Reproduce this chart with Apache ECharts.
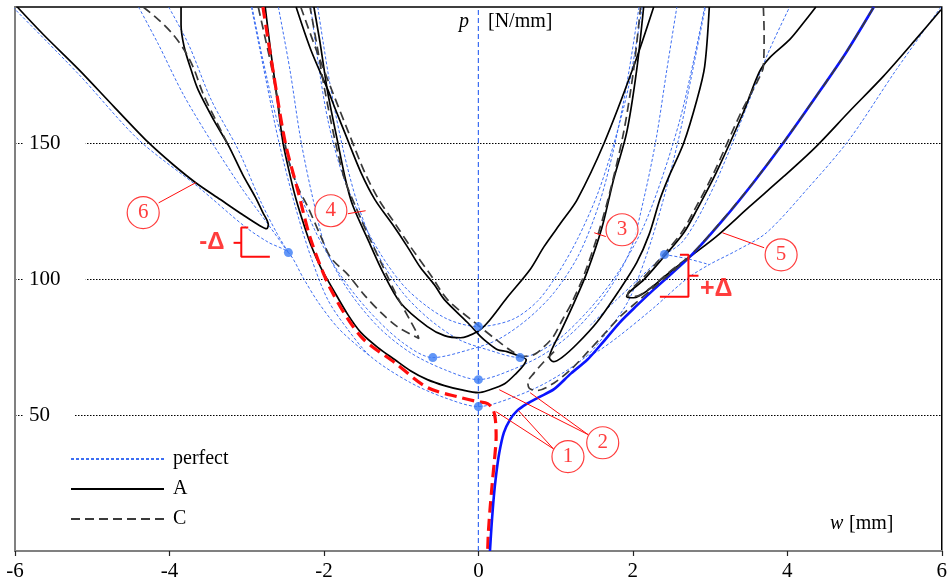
<!DOCTYPE html>
<html><head><meta charset="utf-8">
<script src="https://cdn.jsdelivr.net/npm/echarts/dist/echarts.min.js"></script>
<style>html,body{margin:0;padding:0;background:#fff}#c{width:950px;height:584px}</style>
</head><body><div id="c"></div>
<script>
// ---- axes / ticks ----
const xTicks = [-6, -4, -2, 0, 2, 4, 6];
const yTicks = [0, 50, 100, 150, 200];

// ---- perfect (bifurcation) paths  [w mm, p N/mm] ----
const perfectA = [[-2.94,200],[-2.75,173.2],[-2.59,151.2],[-2.37,126.6],[-2.17,108.2],[-1.95,92.4],[-1.69,81.4],[-1.39,71.4],[-0.88,61.9],[-0.44,56.4],[0,53.1],[0.44,56.4],[0.88,61.9],[1.39,71.4],[1.69,81.4],[1.95,92.4],[2.17,108.2],[2.37,126.6],[2.59,151.2],[2.75,173.2],[2.94,200]];
const perfectB = [[-2.59,200],[-2.44,176.9],[-2.30,151.2],[-2.14,129.2],[-1.97,110.8],[-1.69,96.1],[-1.30,82.5],[-0.88,72.9],[-0.44,66.7],[0,63.0],[0.44,66.7],[0.88,72.9],[1.30,82.5],[1.69,96.1],[1.97,110.8],[2.14,129.2],[2.30,151.2],[2.44,176.9],[2.57,200]];
const perfectC = [[-2.17,200],[-2.08,180.6],[-1.95,158.6],[-1.78,140.2],[-1.56,124.7],[-1.26,108.9],[-0.92,96.1],[-0.44,85.8],[0,82.5],[0.44,85.1],[0.76,91.7],[1.02,101.6],[1.28,114.5],[1.54,131.0],[1.75,149.3],[1.95,171.4],[2.12,200]];
const perfectD = [[-2.93,200],[-2.79,180.6],[-2.61,158.6],[-2.37,136.5],[-2.12,118.1],[-1.79,101.6],[-1.41,88.0],[-0.98,76.6],[-0.59,71.1],[-0.12,74.0],[0.25,77.7],[0.63,85.1],[0.98,95.0],[1.30,108.9],[1.56,127.3],[1.75,147.5],[1.92,171.4],[2.08,200]];
const perfectE = [[-2.08,200],[-1.92,171.4],[-1.75,147.5],[-1.56,127.3],[-1.30,108.9],[-0.98,95.0],[-0.63,85.1],[-0.25,77.7],[0.12,74.0],[0.54,71.1],[0.98,76.6],[1.41,88.0],[1.79,101.6],[2.12,118.1],[2.37,136.5],[2.61,158.6],[2.79,180.6],[2.93,200]];
const perfect6a = [[-6.03,200],[-5.17,175.1],[-4.40,151.2],[-3.63,133.9],[-3.02,119.2],[-2.72,113.5],[-2.46,109.7],[-2.27,100.5],[-2.08,91.7],[-1.82,82.1],[-1.54,74.8],[-1.39,71.4]];
const perfect6b = [[-4.40,200],[-4.14,186.1],[-3.82,167.8],[-3.43,149.3],[-3.05,132.8],[-2.72,120.0],[-2.46,109.7]];
const perfect6c = [[-4.01,200],[-3.75,186.1],[-3.46,165.9],[-3.11,147.5],[-2.83,129.2],[-2.62,117.4],[-2.46,109.7]];
const perfect5a = [[5.99,200],[5.41,176.9],[4.80,151.2],[4.25,132.8],[3.73,117.0],[3.34,110.4],[2.99,105.3],[2.70,100.1],[2.27,89.4],[1.83,79.2],[1.54,73.3],[1.39,71.4]];
const perfect5b = [[2.41,109.0],[2.70,107.5],[2.99,105.3]];
const perfect5c = [[2.41,109.0],[2.63,113.3],[2.83,121.8],[3.06,134.7],[3.28,149.3],[3.51,165.9],[3.77,184.3],[4.03,200]];
const perfect5d = [[2.41,109.0],[2.12,101.2],[1.79,92.4],[1.45,83.0]];
const zeroLine = [[0,0],[0,200]];
const bifurcationPoints = [[0,53.1],[0,63.0],[0,82.5],[-0.59,71.1],[0.54,71.1],[-2.46,109.7],[2.41,109.0]];

// ---- imperfect paths, model A (solid) ----
const A2 = [[-2.76,200],[-2.70,186.1],[-2.62,169.6],[-2.53,150.1],[-2.44,138.3],[-2.36,129.2],[-2.26,120.0],[-2.17,112.6],[-2.04,104.2],[-1.88,96.1],[-1.69,86.9],[-1.52,80.3],[-1.30,74.8],[-1.08,70.3],[-0.88,66.3],[-0.66,63.0],[-0.44,60.8],[-0.23,59.3],[0,58.2],[0.12,59.0],[0.34,61.5],[0.50,65.6],[0.59,68.5],[0.62,70.3],[0.55,71.4],[0.37,73.3],[0.25,74.0],[0.12,76.6],[0.03,78.8],[-0.14,84.0],[-0.44,92.4],[-0.57,97.9],[-0.75,104.2],[-0.92,111.9],[-1.11,120.0],[-1.34,129.2],[-1.52,139.1],[-1.73,153.8],[-1.85,162.3],[-1.95,169.6],[-2.17,184.3],[-2.36,200]];
const A3 = [[2.14,200],[2.05,176.9],[1.92,153.8],[1.75,136.5],[1.60,118.9],[1.41,102.7],[1.24,91.3],[1.06,80.3],[0.95,74.0],[0.92,71.1],[0.97,69.6],[1.08,71.1],[1.28,76.2],[1.54,84.3],[1.83,96.1],[2.05,106.0],[2.21,116.3],[2.35,129.2],[2.46,137.2],[2.66,150.1],[2.83,165.9],[2.93,178.1],[2.99,200]];
const A4 = [[-2.13,200],[-2.05,186.9],[-1.95,168.5],[-1.82,150.1],[-1.72,136.5],[-1.63,127.3],[-1.43,114.5],[-1.24,102.7],[-1.01,91.3],[-0.66,82.5],[-0.44,79.2],[-0.23,78.4],[-0.01,80.7],[0.12,84.0],[0.37,93.1],[0.67,103.5],[0.85,111.9],[1.08,121.1],[1.28,129.2],[1.63,150.1],[2.01,178.1],[2.27,200]];
const A5 = [[4.37,200],[4.21,194.2],[4.03,188.0],[3.77,181.3],[3.64,176.2],[3.43,161.2],[3.08,139.1],[2.83,125.5],[2.66,117.0],[2.37,107.1],[2.14,99.7],[1.96,95.3],[1.92,93.5],[2.01,93.1],[2.22,96.4],[2.44,101.6],[2.74,108.2],[3.08,115.6],[3.51,126.6],[3.95,137.6],[4.37,148.6],[4.80,161.5],[5.24,174.4],[5.66,188.0],[5.99,199.0]];
const A6 = [[-3.85,200],[-3.85,193.5],[-3.81,185.4],[-3.72,176.9],[-3.63,169.6],[-3.43,158.6],[-3.24,149.3],[-3.05,138.3],[-2.89,130.2],[-2.79,124.4],[-2.72,120.0],[-2.74,118.5],[-2.83,119.6],[-3.05,123.6],[-3.34,129.2],[-3.66,135.4],[-3.95,142.0],[-4.27,150.1],[-4.72,163.4],[-5.17,176.9],[-5.63,189.8],[-5.97,200]];

// ---- imperfect paths, model C (dashed) ----
const C4 = [[-2.85,200],[-2.77,189.8],[-2.68,178.1],[-2.58,162.3],[-2.46,143.9],[-2.34,133.9],[-2.21,126.6],[-2.05,116.3],[-1.91,107.8],[-1.69,101.6],[-1.47,93.9],[-1.26,87.6],[-1.05,82.5],[-0.89,79.9],[-0.77,78.1],[-0.80,80.3],[-0.89,85.1],[-1.05,93.5],[-1.26,106.0],[-1.43,116.3],[-1.60,127.3],[-1.73,136.5],[-1.85,150.1],[-1.99,169.6],[-2.08,184.3],[-2.18,200]];
const C6 = [[-4.34,200],[-4.14,195.3],[-3.95,189.8],[-3.81,184.3],[-3.69,177.7],[-3.56,167.8],[-3.39,157.8],[-3.24,149.3]];
const C23 = [[-2.30,200],[-2.10,184.3],[-1.90,169.6],[-1.68,153.8],[-1.47,139.1],[-1.29,129.2],[-1.07,120.0],[-0.88,111.9],[-0.62,101.6],[-0.40,92.4],[-0.06,84.3],[0.23,77.7],[0.42,73.7],[0.57,71.6],[0.72,72.2],[0.85,75.1],[0.97,78.8],[1.09,85.1],[1.21,91.3],[1.37,101.6],[1.56,117.4],[1.71,132.8],[1.88,153.8],[2.01,176.9],[2.10,200]];
const C5 = [[3.69,200],[3.70,190.5],[3.69,178.1],[3.61,172.5],[3.40,161.2],[3.05,139.1],[2.80,125.5],[2.63,117.0],[2.34,107.1],[2.11,99.7],[1.95,95.5],[1.93,93.8],[2.03,93.6],[2.24,97.0],[2.46,102.3],[2.74,108.4]];
const C1 = [[0.98,73.3],[0.84,69.3],[0.72,65.4],[0.64,62.0],[0.66,59.8],[0.76,59.0],[0.98,61.8],[1.20,66.8],[1.41,73.0],[1.62,79.5],[1.83,86.0],[2.05,91.5],[2.27,96.8],[2.74,108.5],[3.17,122.0],[3.56,135.5],[3.95,150.2],[4.37,167.0],[4.76,183.2],[5.12,200]];

// ---- curve 1 (highlighted) ----
const curve1Neg = [[-2.79,200],[-2.65,175.1],[-2.50,150.1],[-2.34,132.8],[-2.17,114.5],[-1.91,96.1],[-1.52,78.8],[-1.08,69.2],[-0.66,60.1],[-0.23,56.4],[-0.01,54.9],[0.12,54.2],[0.19,52.0],[0.22,48.3],[0.23,42],[0.21,34],[0.18,25],[0.15,15],[0.13,7],[0.12,0]];
const curve1Pos = [[0.15,0],[0.17,9],[0.20,20],[0.23,28],[0.27,36],[0.33,43.5],[0.41,48.3],[0.50,51.5],[0.63,54.2],[0.78,56.5],[0.98,59.5],[1.20,65.3],[1.41,70.3],[1.62,77.0],[1.83,84.0],[2.05,90.2],[2.27,96.1],[2.74,108.2],[3.17,121.8],[3.56,135.4],[3.95,150.1],[4.37,167.0],[4.76,183.2],[5.12,200]];

// ---- annotations ----
const circleLabels = [[1.16,34.7,'1'],[1.61,39.8,'2'],[1.86,118.1,'3'],[-1.91,125.1,'4'],[3.92,108.9,'5'],[-4.34,124.4,'6']];
const leaders = [
  [[0.97,37.6],[0.23,51.2]], [[0.97,37.6],[0.52,51.6]],
  [[1.42,42.8],[0.27,59.3]], [[1.42,42.8],[0.67,58.2]],
  [[1.65,115.6],[1.50,117.0]], [[-1.69,124.0],[-1.46,125.1]],
  [[3.70,111.5],[3.16,117.0]], [[-4.14,128.0],[-3.66,135.4]]
];
const bracketMinus = [[-2.98,118.9],[-3.07,118.9],[-3.07,108.2],[-2.70,108.2]];
const bracketMinusTick = [[-3.17,113.3],[-3.07,113.3]];
const bracketPlus = [[2.61,108.9],[2.72,108.9],[2.72,93.5],[2.35,93.5]];
const bracketPlusTick = [[2.72,101.2],[2.85,101.2]];
const deltaLabels = [[-3.45,113.3,'-Δ',24],[3.08,96.4,'+Δ',25]];

// ---- styles ----
const SERIF = '"Liberation Serif", "DejaVu Serif", serif';
const stPerfect = {color:'#3d6ef2', width:1, type:[3,2]};
const stA = {color:'#000', width:1.7};
const stC = {color:'#3a3a3a', width:1.7, type:[9,5]};
const RED = '#ff0d0d';

function ln(name, data, style, z, smooth) {
  return {type:'line', name, data, symbol:'none', smooth: smooth===undefined?0.3:smooth,
          lineStyle:style, itemStyle:{color:style.color}, z, silent:true, animation:false};
}

const series = [];
series.push(ln('zero', zeroLine, {color:'#3d6ef2', width:1.2, type:[5,3]}, 1, false));
[perfectA, perfectB, perfectC, perfectD, perfectE, perfect6a, perfect6b, perfect6c, perfect5a, perfect5b, perfect5c, perfect5d]
  .forEach(d => series.push(ln('perfect', d, stPerfect, 2)));
[A2, A3, A4, A5, A6].forEach(d => series.push(ln('A', d, stA, 3)));
[C4, C6, C23, C5].forEach(d => series.push(ln('C', d, stC, 4)));
series.push(ln('neg', curve1Neg, {color:RED, width:3.2, type:[12,6]}, 5));
series.push(ln('pos', curve1Pos, {color:'#0a14ff', width:2.6}, 5));
series.push(ln('C', C1, stC, 6));
series.push({type:'scatter', name:'dots', data:bifurcationPoints, symbolSize:9, itemStyle:{color:'#3b7cf5'}, z:7, silent:true, animation:false});
leaders.forEach(d => series.push(ln('lead', d, {color:RED, width:1}, 8, false)));
series.push(ln('br', bracketMinus, {color:RED, width:2}, 8, false));
series.push(ln('br', bracketMinusTick, {color:RED, width:2}, 8, false));
series.push(ln('br', bracketPlus, {color:RED, width:2}, 8, false));
series.push(ln('br', bracketPlusTick, {color:RED, width:2}, 8, false));
series.push({type:'scatter', name:'circ', data:circleLabels, symbolSize:32,
  itemStyle:{color:'#fff', borderColor:RED, borderWidth:1.2}, z:9, silent:true, animation:false,
  label:{show:true, position:'inside', formatter:p=>p.value[2], color:RED, fontSize:21, fontFamily:SERIF}});
deltaLabels.forEach(d => series.push({type:'scatter', name:'dl', data:[d], symbolSize:1,
  itemStyle:{color:'rgba(0,0,0,0)'}, z:9, silent:true, animation:false,
  label:{show:true, position:'inside', formatter:p=>p.value[2], color:RED, fontSize:d[3], fontWeight:'bold', fontFamily:'"Liberation Sans", Arial, sans-serif'}}));

const chart = echarts.init(document.getElementById('c'), null, {renderer:'canvas'});
chart.setOption({
  animation:false,
  backgroundColor:'#fff',
  grid:{left:15, right:5, top:7, bottom:33, show:true, borderColor:'#000', borderWidth:1.5},
  xAxis:{type:'value', min:xTicks[0], max:xTicks[xTicks.length-1], interval:xTicks[1]-xTicks[0],
    axisLine:{show:true, onZero:false, lineStyle:{color:'#808080', width:2}},
    axisTick:{show:true, inside:false, length:5, lineStyle:{color:'#222', width:1.2}},
    axisLabel:{margin:10, fontSize:21, fontFamily:SERIF, color:'#000'},
    splitLine:{show:false}},
  yAxis:{type:'value', min:yTicks[0], max:yTicks[yTicks.length-1], interval:yTicks[1]-yTicks[0],
    axisLine:{show:true, onZero:false, lineStyle:{color:'#808080', width:2}},
    axisTick:{show:false},
    axisLabel:{inside:true, margin:8, fontSize:21, fontFamily:SERIF, color:'#000',
      backgroundColor:'#fff', padding:[1,25,1,6], showMinLabel:false, showMaxLabel:false,
      formatter:v => (v===yTicks[0] || v===yTicks[yTicks.length-1]) ? '' : String(v)},
    splitLine:{show:true, showMinLine:false, showMaxLine:false, lineStyle:{color:'#000', width:1, type:[1.5,1.5]}}},
  legend:{data:['perfect','A','C'], orient:'vertical', left:65, top:444, itemWidth:93, itemHeight:14, itemGap:10,
    selectedMode:false, itemStyle:{opacity:0},
    textStyle:{fontSize:20, fontFamily:SERIF, color:'#000', padding:[0,0,0,4], lineHeight:20}},
  graphic:[
    {type:'text', left:459, top:12, style:{text:'p', font:'italic 20px "Liberation Serif"', fill:'#000'}},
    {type:'text', left:488, top:12, style:{text:'[N/mm]', font:'20px "Liberation Serif"', fill:'#000'}},
    {type:'text', left:830, top:514, style:{text:'w', font:'italic 20px "Liberation Serif"', fill:'#000'}},
    {type:'text', left:849, top:514, style:{text:'[mm]', font:'20px "Liberation Serif"', fill:'#000'}}
  ],
  series
});
</script></body></html>
